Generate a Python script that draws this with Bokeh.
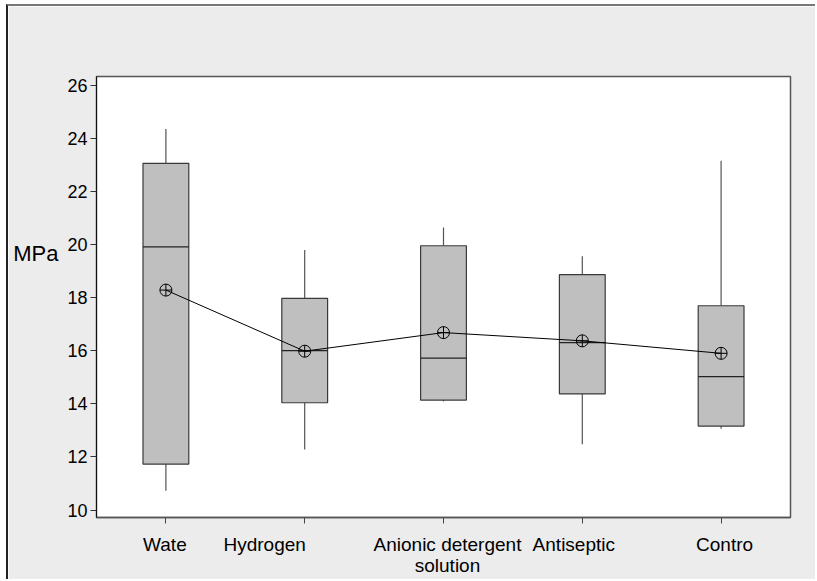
from bokeh.plotting import figure
from bokeh.models import Range1d, FixedTicker, LinearAxis
from bokeh.embed import file_html
from bokeh.resources import INLINE

# ---- data ----
categories = ["Wate", "Hydrogen", "Anionic detergent\nsolution", "Antiseptic", "Contro"]
whisker_low = [10.73, 12.28, 14.09, 12.48, 13.06]
q1 = [11.73, 14.04, 14.14, 14.37, 13.16]
median = [19.91, 16.00, 15.72, 16.30, 15.02]
q3 = [23.05, 17.97, 19.95, 18.86, 17.69]
whisker_high = [24.34, 19.79, 20.64, 19.55, 23.15]
means = [18.28, 15.98, 16.68, 16.37, 15.90]
y_ticks = [10, 12, 14, 16, 18, 20, 22, 24, 26]
y_label = "MPa"

# ---- style ----
FONT = "Liberation Sans"
BOX_W = 0.33
X0, X1 = 0.5, 5.5
FRAME_W = 694
PX_PER_UNIT = FRAME_W / (X1 - X0)
label_dx = [-1, -40, 4, -8.5, 3.5]   # px offsets of category labels from their ticks
Y_LABEL_POS = 19.65                  # vertical placement of the horizontal "MPa" label

xs = list(range(1, len(categories) + 1))
label_pos = [x + dx / PX_PER_UNIT for x, dx in zip(xs, label_dx)]

p = figure(width=809, height=575, output_backend="svg", toolbar_location=None,
           x_range=Range1d(X0, X1), y_range=Range1d(9.72, 26.32),
           min_border_left=88, min_border_right=27, min_border_top=70, min_border_bottom=64,
           margin=(4, 0, 0, 6),
           styles={"border-top": "2px solid #777777", "border-left": "2px solid #222222"})
p.border_fill_color = "#ECECEC"
p.background_fill_color = "white"
p.outline_line_color = "#555555"
p.outline_line_width = 1.5
p.grid.visible = False

# y axis
p.yaxis.ticker = FixedTicker(ticks=y_ticks)
p.yaxis.major_tick_in = 0
p.yaxis.major_tick_out = 6
p.yaxis.minor_tick_line_color = None
p.yaxis.axis_line_color = "#111111"
p.yaxis.major_tick_line_color = "#333333"
p.yaxis.major_label_text_font = FONT
p.yaxis.major_label_text_font_size = "18px"
p.yaxis.major_label_text_color = "black"
p.yaxis.major_label_standoff = 3

# horizontal "MPa" title as an outer left axis
ylab_axis = LinearAxis(ticker=FixedTicker(ticks=[Y_LABEL_POS]),
                       major_label_overrides={Y_LABEL_POS: y_label},
                       axis_line_color=None, major_tick_line_color=None,
                       minor_tick_line_color=None, major_tick_in=0, major_tick_out=0,
                       major_label_standoff=6,
                       major_label_text_font=FONT, major_label_text_font_size="22px",
                       major_label_text_color="black")
p.add_layout(ylab_axis, "left")

# x axis: tick marks at categories (minor ticks), labels at their drawn positions
p.xaxis.ticker = FixedTicker(ticks=label_pos, minor_ticks=xs)
p.xaxis.major_label_overrides = {pos: name for pos, name in zip(label_pos, categories)}
p.xaxis.major_tick_line_color = None
p.xaxis.major_tick_in = 0
p.xaxis.major_tick_out = 0
p.xaxis.minor_tick_in = 0
p.xaxis.minor_tick_out = 6
p.xaxis.minor_tick_line_color = "#444444"
p.xaxis.axis_line_color = "#555555"
p.xaxis.axis_line_width = 1.5
p.xaxis.major_label_standoff = 10
p.xaxis.major_label_text_font = FONT
p.xaxis.major_label_text_font_size = "19px"
p.xaxis.major_label_text_line_height = 1.0
p.xaxis.major_label_text_color = "black"

# whiskers
p.segment(x0=xs, y0=q3, x1=xs, y1=whisker_high, line_color="#555555", line_width=1.2)
p.segment(x0=xs, y0=q1, x1=xs, y1=whisker_low, line_color="#555555", line_width=1.2)
# boxes
p.vbar(x=xs, width=BOX_W, bottom=q1, top=q3, fill_color="#BFBFBF",
       line_color="#3A3A3A", line_width=1.2)
# medians
p.segment(x0=[x - BOX_W / 2 for x in xs], y0=median, x1=[x + BOX_W / 2 for x in xs], y1=median,
          line_color="#222222", line_width=1.2)
# mean connect line and symbols
p.line(xs, means, line_color="black", line_width=1)
p.scatter(xs, means, marker="circle_cross", size=12, line_color="black",
          fill_alpha=0, line_width=1)

open("out.html", "w").write(file_html(p, INLINE))
